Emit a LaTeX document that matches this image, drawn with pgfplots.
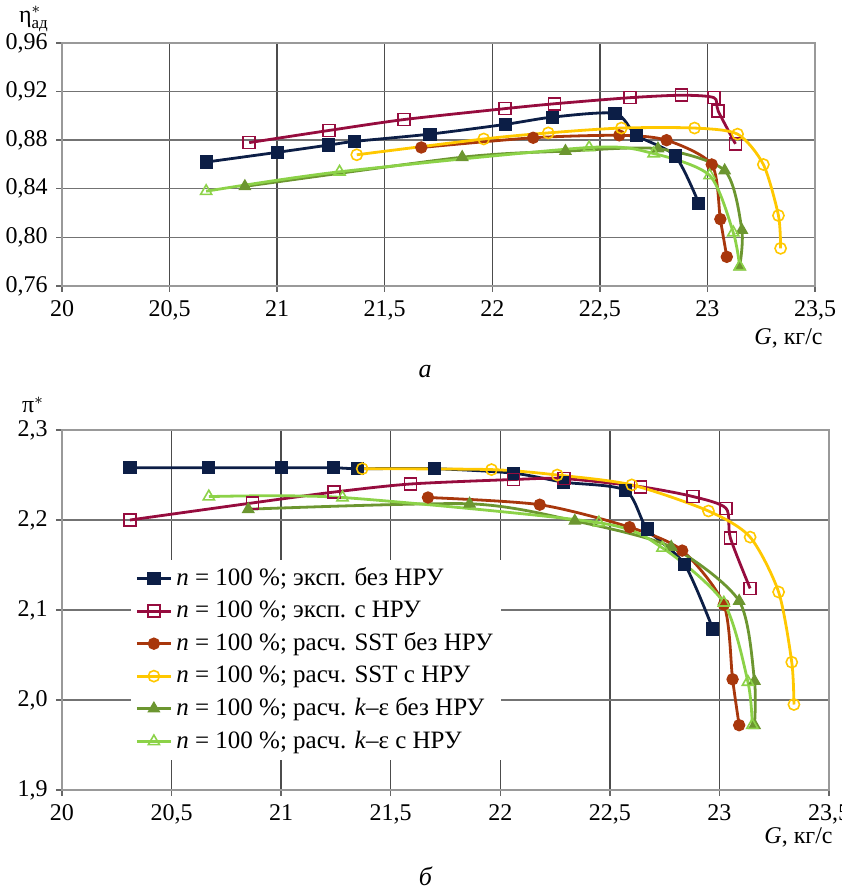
\documentclass[border=0pt]{standalone}
\usepackage{pgfplots}
\pgfplotsset{compat=1.18}
\usepackage{fontspec}
\setmainfont{Liberation Serif}
\definecolor{cnavy}{RGB}{12,30,70}
\definecolor{cmaroon}{RGB}{150,12,62}
\definecolor{cbrown}{RGB}{168,55,12}
\definecolor{cyellow}{RGB}{255,200,0}
\definecolor{colive}{RGB}{108,150,48}
\definecolor{clgreen}{RGB}{140,210,72}
\pgfplotsset{
  common/.style={
    scale only axis,
    anchor=north west,
    xmin=20, xmax=23.5,
    xtick={20,20.5,...,23.5},
    grid=major,
    x grid style={black!70, line width=0.7pt},
    y grid style={black!55, line width=0.7pt},
    axis line style={black!40, line width=0.7pt},
    tick align=outside,
    major tick length=3pt,
    tick style={black!60, line width=0.7pt},
    xtick pos=left, ytick pos=left,
    /pgf/number format/assume math mode=true,
    /pgf/number format/use comma,
    xticklabel style={/pgf/number format/1000 sep={}},
    every axis x label/.style={at={(rel axis cs:1,0)}, anchor=east},
    every axis y label/.style={at={(rel axis cs:0,1)}, anchor=center},
    clip=false,
    every axis plot/.append style={line width=1.4pt, smooth, tension=0.45},
  },
  snavy/.style={color=cnavy, mark=square*, mark size=3pt, mark options={fill=cnavy, line width=0.6pt}},
  smaroon/.style={color=cmaroon, mark=square, mark size=3pt, mark options={line width=0.8pt}},
  sbrown/.style={color=cbrown, mark=*, mark size=2.8pt, mark options={fill=cbrown, line width=0.6pt}},
  syellow/.style={color=cyellow, mark=o, mark size=2.8pt, mark options={line width=0.8pt}},
  solive/.style={color=colive, mark=triangle*, mark size=3.2pt, mark options={fill=colive, line width=0.6pt}},
  slgreen/.style={color=clgreen, mark=triangle, mark size=3.2pt, mark options={line width=0.8pt}},
}
\begin{document}
\fontsize{12}{14.4}\selectfont
\begin{tikzpicture}
\path[use as bounding box] (0,0) rectangle (420.5pt,-446pt);
% ---------- top panel ----------
\begin{axis}[common,
  at={(31pt,-21.5pt)},
  width=376.5pt, height=121.5pt,
  ymin=0.76, ymax=0.96,
  ytick={0.76,0.80,0.84,0.88,0.92,0.96},
  yticklabel style={/pgf/number format/fixed, /pgf/number format/fixed zerofill, /pgf/number format/precision=2},
  xlabel={\textit{G}, кг/с},
  xlabel style={xshift=8pt, yshift=-26pt},
  ylabel={η$^{*}_{\mbox{\fontsize{8.5}{9}\selectfont ад}}$},
  ylabel style={xshift=-14pt, yshift=12pt},
]
\addplot[snavy] coordinates {
(20.67,0.862) (21.00,0.870) (21.24,0.876) (21.36,0.879) (21.71,0.885) (22.06,0.893)
(22.28,0.899) (22.57,0.902) (22.67,0.884) (22.85,0.867) (22.96,0.828)};
\addplot[smaroon] coordinates {
(20.87,0.878) (21.24,0.888) (21.59,0.897) (22.06,0.906) (22.29,0.910) (22.64,0.915)
(22.88,0.917) (23.03,0.915) (23.05,0.904) (23.13,0.877)};
\addplot[sbrown] coordinates {
(21.67,0.874) (22.19,0.882) (22.59,0.884) (22.81,0.880) (23.02,0.860) (23.06,0.815) (23.09,0.784)};
\addplot[syellow] coordinates {
(21.37,0.868) (21.96,0.881) (22.26,0.886) (22.60,0.890) (22.94,0.890) (23.14,0.885)
(23.26,0.860) (23.33,0.818) (23.34,0.791)};
\addplot[solive] coordinates {
(20.85,0.842) (21.86,0.866) (22.34,0.871) (22.77,0.873) (23.08,0.855) (23.16,0.806) (23.15,0.776)};
\addplot[slgreen] coordinates {
(20.67,0.838) (21.29,0.854) (22.45,0.874) (22.75,0.869) (23.01,0.851) (23.12,0.804) (23.15,0.776)};
\node[font=\itshape\fontsize{13}{15}\selectfont] at (rel axis cs:0.5,0) [xshift=-6.75pt, yshift=-43pt] {а};
\end{axis}
% ---------- bottom panel ----------
\begin{axis}[common,
  at={(31pt,-215pt)},
  width=383.5pt, height=180pt,
  ymin=1.9, ymax=2.3,
  ytick={1.9,2.0,2.1,2.2,2.3},
  yticklabel style={/pgf/number format/fixed, /pgf/number format/fixed zerofill, /pgf/number format/precision=1},
  xlabel={\textit{G}, кг/с},
  xlabel style={xshift=6pt, yshift=-23.5pt},
  ylabel={π$^{*}$},
  ylabel style={xshift=-14.5pt, yshift=12.5pt},
  legend cell align=left,
  legend style={at={(0.09,0.64)}, anchor=north west, draw=none, fill=white,
    row sep=1.8pt, inner sep=2pt, font=\fontsize{12.5}{15}\selectfont},
]
\addplot[snavy] coordinates {
(20.31,2.258) (20.67,2.258) (21.00,2.258) (21.24,2.258) (21.35,2.257) (21.70,2.257)
(22.06,2.252) (22.29,2.242) (22.57,2.233) (22.67,2.190) (22.84,2.151) (22.97,2.079)};
\addlegendentry{\textit{n} = 100 \%; эксп. без НРУ}
\addplot[smaroon] coordinates {
(20.31,2.200) (20.87,2.219) (21.24,2.231) (21.59,2.240) (22.06,2.245) (22.29,2.246)
(22.64,2.237) (22.88,2.226) (23.03,2.213) (23.05,2.180) (23.14,2.124)};
\addlegendentry{\textit{n} = 100 \%; эксп. с НРУ}
\addplot[sbrown] coordinates {
(21.67,2.225) (22.18,2.217) (22.59,2.192) (22.83,2.166) (23.02,2.106) (23.06,2.023) (23.09,1.972)};
\addlegendentry{\textit{n} = 100 \%; расч. SST без НРУ}
\addplot[syellow] coordinates {
(21.37,2.257) (21.96,2.256) (22.26,2.250) (22.60,2.239) (22.95,2.210) (23.14,2.181)
(23.27,2.120) (23.33,2.042) (23.34,1.995)};
\addlegendentry{\textit{n} = 100 \%; расч. SST с НРУ}
\addplot[solive] coordinates {
(20.85,2.212) (21.86,2.218) (22.34,2.199) (22.78,2.170) (23.09,2.110) (23.16,2.021) (23.16,1.972)};
\addlegendentry{\textit{n} = 100 \%; расч. \textit{k}–ε без НРУ}
\addplot[slgreen] coordinates {
(20.67,2.226) (21.28,2.225) (22.45,2.197) (22.74,2.169) (23.02,2.108) (23.13,2.020) (23.15,1.972)};
\addlegendentry{\textit{n} = 100 \%; расч. \textit{k}–ε с НРУ}
\node[font=\itshape\fontsize{13}{15}\selectfont] at (rel axis cs:0.5,0) [xshift=-10pt, yshift=-43pt] {б};
\end{axis}
\end{tikzpicture}
\end{document}
